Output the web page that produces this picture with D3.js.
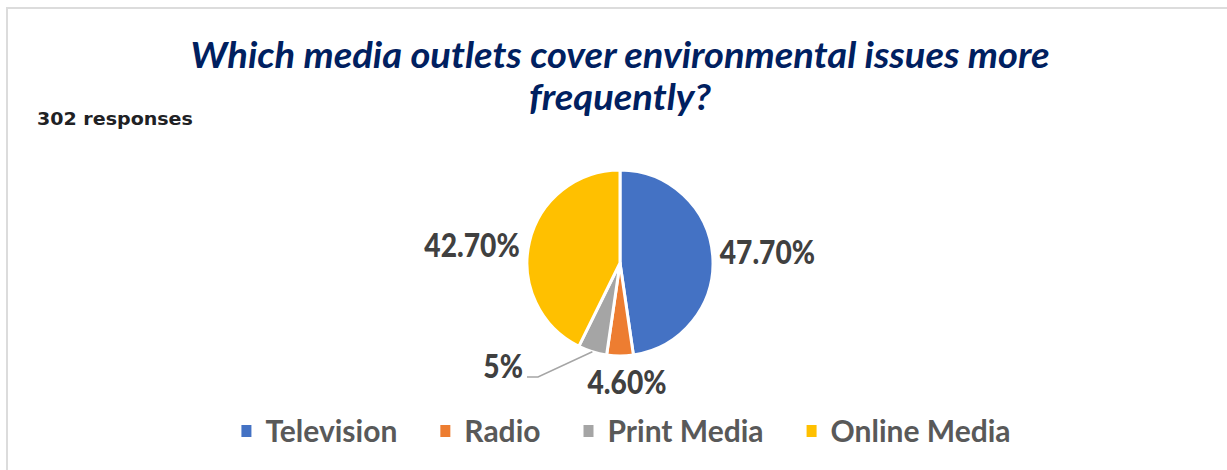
<!DOCTYPE html>
<html><head><meta charset="utf-8">
<script src="https://cdn.jsdelivr.net/npm/d3@7"></script>
<style>html,body{margin:0;padding:0;background:#fff;}svg{display:block;}</style>
</head><body>
<svg id="chart" width="1227" height="470"></svg>
<script>
const categories = ["Television", "Radio", "Print Media", "Online Media"];
const values = [47.7, 4.6, 5, 42.7];
const valueLabels = ["47.70%", "4.60%", "5%", "42.70%"];
const colors = ["#4472C4", "#ED7D31", "#A5A5A5", "#FFC000"];
const titleLines = ["Which media outlets cover environmental issues more", "frequently?"];
const subtitle = "302 responses";

const W = 1227, H = 470;
const svg = d3.select("#chart");

function scaleWidth(sel, k) {
  sel.each(function () {
    const w = this.getComputedTextLength();
    d3.select(this).attr("textLength", w * k).attr("lengthAdjust", "spacingAndGlyphs");
  });
}

// frame
svg.append("line").attr("x1", 6).attr("x2", W).attr("y1", 8).attr("y2", 8)
  .attr("stroke", "#dcdcdc").attr("stroke-width", 2);
svg.append("line").attr("x1", 7).attr("x2", 7).attr("y1", 8).attr("y2", H)
  .attr("stroke", "#dcdcdc").attr("stroke-width", 2);

// title
titleLines.forEach((t, i) => {
  const tt = svg.append("text").attr("text-anchor", "middle")
    .attr("x", 620).attr("y", 68 + i * 42)
    .attr("font-family", "Lato, 'Open Sans', sans-serif").attr("font-style", "italic")
    .attr("font-weight", "bold").attr("font-size", 37).attr("fill", "#002060").text(t);
  scaleWidth(tt, 1.03);
});

const sub = svg.append("text").attr("x", 37).attr("y", 125)
  .attr("font-family", "'DejaVu Sans', sans-serif").attr("font-weight", "bold")
  .attr("font-size", 17).attr("fill", "#202124").text(subtitle);
scaleWidth(sub, 1.12);

// pie
const cx = 620, cy = 263, r = 93;
const pie = d3.pie().sort(null).value(d => d.v).startAngle(0).endAngle(2 * Math.PI);
const data = pie(categories.map((c, i) => ({ c, v: values[i], label: valueLabels[i], color: colors[i] })));
const arc = d3.arc().innerRadius(0).outerRadius(r);
const g = svg.append("g").attr("transform", `translate(${cx},${cy})`);
g.selectAll("path").data(data).join("path")
  .attr("d", arc).attr("fill", d => d.data.color)
  .attr("stroke", "#fff").attr("stroke-width", 3).attr("stroke-linejoin", "round");

const labelFont = "Lato, 'Open Sans', sans-serif";
const labelK = 0.88;
function mid(d) { return (d.startAngle + d.endAngle) / 2; }
function pt(a, rad) { return [Math.sin(a) * rad, -Math.cos(a) * rad]; }
function label(x, y, anchor, text) {
  const t = g.append("text").attr("x", x).attr("y", y).attr("dy", "0.35em").attr("text-anchor", anchor)
    .attr("font-family", labelFont).attr("font-weight", 900).attr("font-size", 32).attr("fill", "#404040")
    .text(text);
  scaleWidth(t, labelK);
}

// Television label
{ const d = data[0]; const [x, y] = pt(mid(d), r + 7); label(x, y - 3, "start", d.data.label); }
// Radio label
{ const d = data[1]; const [x, y] = pt(mid(d), r + 27); label(x + 7, y, "middle", d.data.label); }
// Print label with leader line
{
  const d = data[2]; const a = mid(d);
  const p0 = pt(a, r);
  const p1 = [-82, 114];
  const p2 = [p1[0] - 11, p1[1]];
  g.append("polyline").attr("points", [p0, p1, p2].map(p => p.join(",")).join(" "))
    .attr("fill", "none").attr("stroke", "#A5A5A5").attr("stroke-width", 1.5);
  label(p2[0] - 4, p2[1] - 10, "end", d.data.label);
}
// Online label
{ const d = data[3]; const [x, y] = pt(mid(d), r + 10); label(x, y + 6, "end", d.data.label); }

// legend
const leg = svg.append("g");
const items = leg.selectAll("g").data(categories).join("g");
items.append("rect").attr("width", 10).attr("height", 12).attr("y", -6).attr("fill", (d, i) => colors[i]);
items.append("text").attr("x", 24).attr("dy", "0.35em")
  .attr("font-family", labelFont).attr("font-weight", "bold").attr("font-size", 30).attr("fill", "#595959")
  .text(d => d);
let xpos = 0;
items.each(function () {
  const w = d3.select(this).select("text").node().getComputedTextLength();
  d3.select(this).attr("transform", `translate(${xpos},431)`);
  xpos += 24 + w + 43;
});
const total = xpos - 43;
leg.attr("transform", `translate(${626 - total / 2},0)`);
</script>
</body></html>
